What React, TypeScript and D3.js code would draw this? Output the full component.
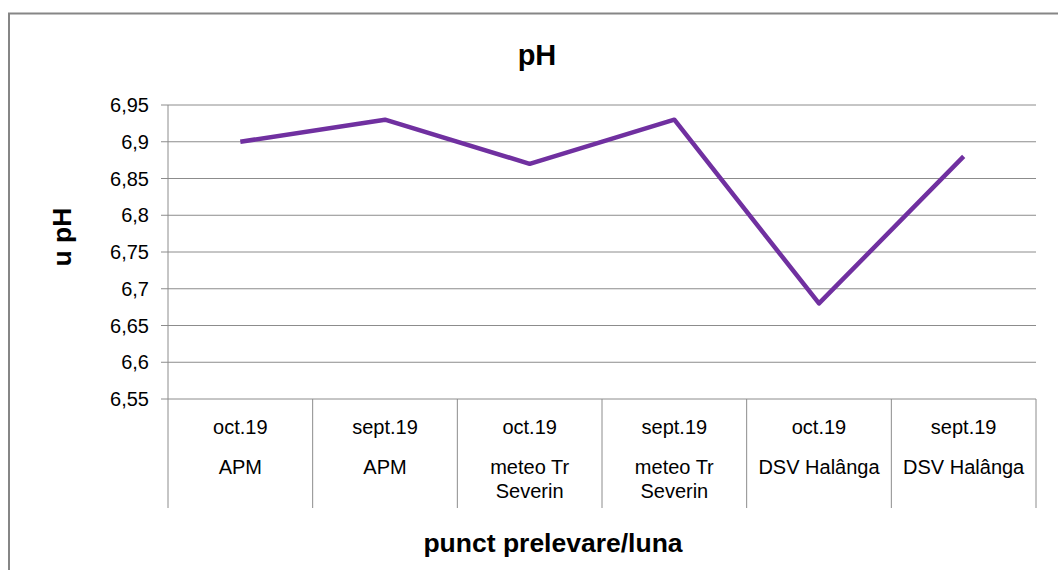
import React from "react";
import * as d3 from "d3";

const months = ["oct.19", "sept.19", "oct.19", "sept.19", "oct.19", "sept.19"];
const stations = [["APM"], ["APM"], ["meteo Tr", "Severin"], ["meteo Tr", "Severin"], ["DSV Halânga"], ["DSV Halânga"]];
const phValues = [6.9, 6.93, 6.87, 6.93, 6.68, 6.88];
const yTicks = [6.55, 6.6, 6.65, 6.7, 6.75, 6.8, 6.85, 6.9, 6.95];

const W = 1058;
const H = 570;
const plot = { left: 168, right: 1036, top: 105, bottom: 399 };
const font = "'Liberation Sans', Arial, sans-serif";

export default function App() {
  const x = d3
    .scaleBand<number>()
    .domain(phValues.map((_, i) => i))
    .range([plot.left, plot.right])
    .padding(0);
  const y = d3.scaleLinear().domain([6.55, 6.95]).range([plot.bottom, plot.top]);
  const line = d3
    .line<number>()
    .x((_, i) => (x(i) as number) + x.bandwidth() / 2)
    .y((d) => y(d));
  const fmt = (v: number) => String(+v.toFixed(2)).replace(".", ",");
  const grid = "#8c8c8c";

  return (
    <svg
      width={W}
      height={H}
      style={{ position: "absolute", left: 0, top: 0 }}
      fontFamily={font}
    >
      <rect x={0} y={0} width={W} height={H} fill="#fff" />
      <path d={`M9,${H} V13.5 H${W}`} fill="none" stroke="#868686" strokeWidth={2} />
      <text x={537} y={65} textAnchor="middle" fontSize={29} fontWeight="bold" fill="#000">
        pH
      </text>
      {yTicks.map((t) => (
        <g key={t}>
          <line x1={plot.left - 7} x2={plot.right} y1={y(t)} y2={y(t)} stroke={grid} strokeWidth={1} />
          <text x={149} y={y(t)} dy="0.36em" textAnchor="end" fontSize={20} fill="#000">
            {fmt(t)}
          </text>
        </g>
      ))}
      {d3.range(phValues.length + 1).map((i) => {
        const xx = i < phValues.length ? (x(i) as number) : plot.right;
        return (
          <line key={i} x1={xx} x2={xx} y1={i === 0 ? plot.top : plot.bottom} y2={508} stroke={grid} strokeWidth={1} />
        );
      })}
      {phValues.map((_, i) => {
        const cx = (x(i) as number) + x.bandwidth() / 2;
        return (
          <g key={i} fontSize={20} fill="#000" textAnchor="middle">
            <text x={cx} y={434}>{months[i]}</text>
            {stations[i].map((s, j) => (
              <text key={j} x={cx} y={474 + j * 24}>{s}</text>
            ))}
          </g>
        );
      })}
      <path d={line(phValues) || ""} fill="none" stroke="#7030A0" strokeWidth={4.5} strokeLinejoin="round" />
      <text x={553} y={552} textAnchor="middle" fontSize={26.5} fontWeight="bold" fill="#000">
        punct prelevare/luna
      </text>
      <text
        transform="translate(71,237) rotate(-90)"
        textAnchor="middle"
        fontSize={26.5}
        fontWeight="bold"
        fill="#000"
      >
        u pH
      </text>
    </svg>
  );
}
